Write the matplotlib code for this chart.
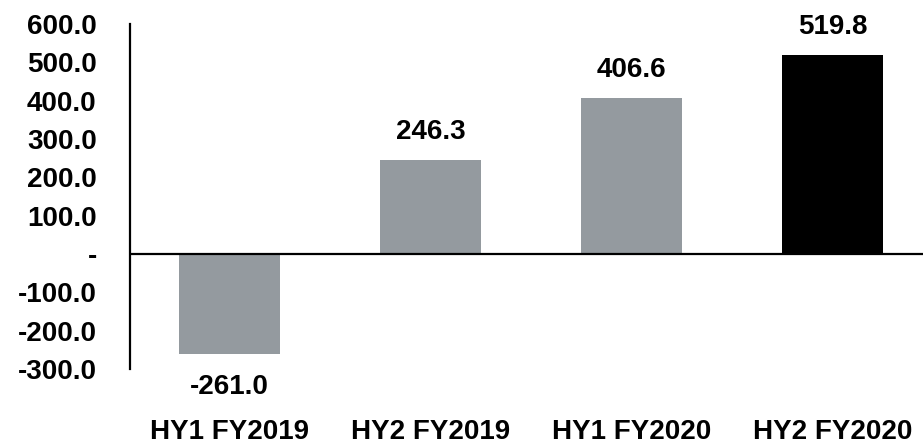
import matplotlib.pyplot as plt

plt.rcParams["font.family"] = ["Liberation Sans", "DejaVu Sans"]
plt.rcParams["font.weight"] = "bold"

CATEGORIES = ["HY1 FY2019", "HY2 FY2019", "HY1 FY2020", "HY2 FY2020"]
VALUES = [-261.0, 246.3, 406.6, 519.8]
BAR_COLORS = ["#949a9f", "#949a9f", "#949a9f", "#000000"]
Y_TICKS = [-300, -200, -100, 0, 100, 200, 300, 400, 500, 600]
Y_TICK_LABELS = ["-300.0", "-200.0", "-100.0", "-", "100.0", "200.0",
                 "300.0", "400.0", "500.0", "600.0"]

FS = 20

fig = plt.figure(figsize=(9.23, 4.48), dpi=100)
ax = fig.add_axes([130 / 923, 79 / 448, 1 - 130 / 923, 345 / 448])

x = range(len(CATEGORIES))
ax.bar(x, VALUES, width=0.5, color=BAR_COLORS, zorder=2)
ax.axhline(0, color="black", linewidth=1.6, zorder=3)

for xi, v in zip(x, VALUES):
    offset = 20 if v >= 0 else -24
    ax.annotate(f"{v:.1f}", (xi, v), xytext=(0, offset), textcoords="offset points",
                ha="center", va="center", fontsize=FS, fontweight="bold")

ax.set_xlim(-0.495, 3.45)
ax.set_ylim(-300, 600)
ax.set_yticks(Y_TICKS)
ax.set_yticklabels(Y_TICK_LABELS, fontsize=FS, fontweight="bold")
ax.set_xticks(list(x))
ax.set_xticklabels(CATEGORIES, fontsize=FS, fontweight="bold")
ax.tick_params(axis="y", length=0, pad=24)
ax.tick_params(axis="x", length=0, pad=36)

for side in ("top", "right", "bottom"):
    ax.spines[side].set_visible(False)
ax.spines["left"].set_linewidth(1.6)

fig.savefig("out.png", dpi=100)
